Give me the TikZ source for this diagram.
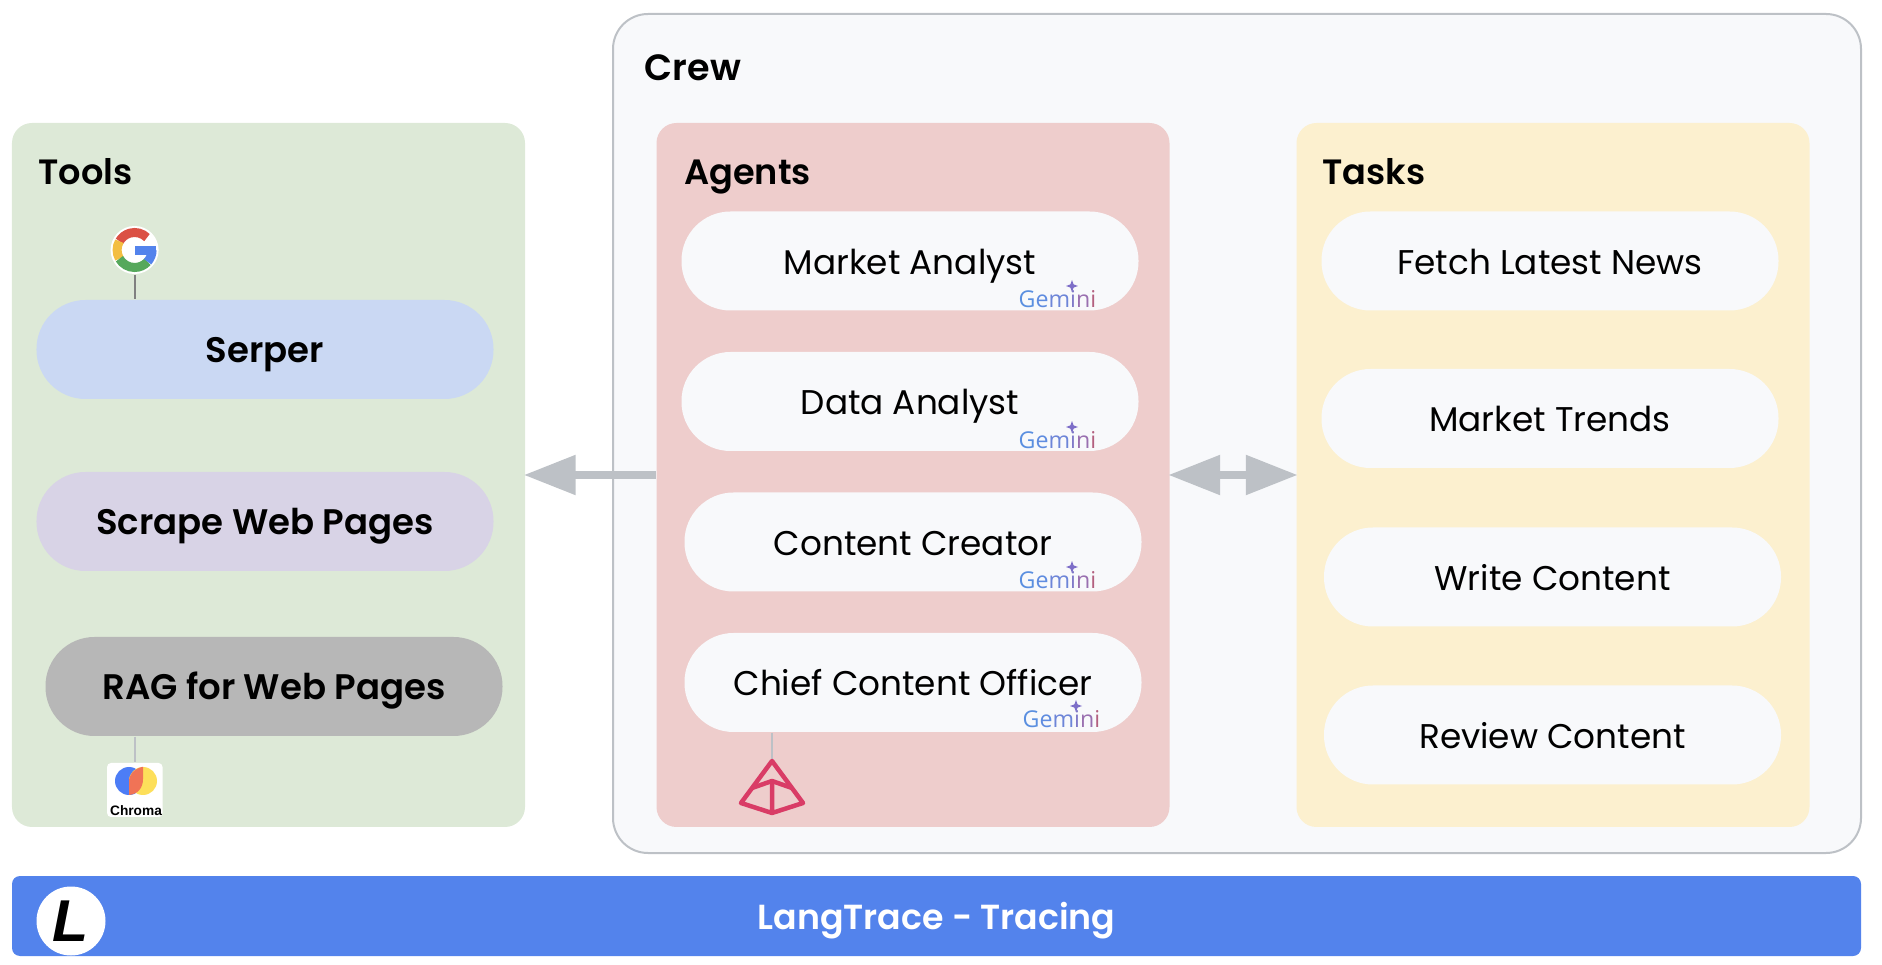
\documentclass[tikz,border=0pt]{standalone}
\usepackage{fontspec}
\setmainfont{Poppins}[BoldFont={Poppins SemiBold}]
\newfontfamily\chromafont{Liberation Sans}
\newfontfamily\geminifont{Open Sans}
\usetikzlibrary{arrows.meta}
\definecolor{toolsgreen}{HTML}{DDE9D7}
\definecolor{agentsred}{HTML}{EECDCC}
\definecolor{tasksyellow}{HTML}{FCF0CF}
\definecolor{crewgrey}{HTML}{F8F9FB}
\definecolor{edgegrey}{HTML}{BDC1C6}
\definecolor{serperblue}{HTML}{CAD8F3}
\definecolor{scrapeviolet}{HTML}{D8D3E6}
\definecolor{raggrey}{HTML}{B7B7B7}
\definecolor{barblue}{HTML}{5383EC}
\definecolor{pyramidred}{HTML}{D93C66}
\begin{document}
\begin{tikzpicture}[every node/.style={font=\fontsize{9.75}{12}\selectfont, inner sep=0pt},
	panel/.style={rounded corners=0.2cm, minimum width=5.13cm, minimum height=7.04cm},
	pill/.style={fill=crewgrey, rounded corners=0.49cm, minimum width=4.57cm, minimum height=0.99cm, text height=0.30cm, text depth=0.03cm},
	tool/.style={pill, font=\fontsize{10.1}{12}\selectfont\bfseries},
	title/.style={anchor=base west, font=\fontsize{10}{12}\selectfont\bfseries},
	flow/.style={draw=edgegrey, line width=0.086cm, shorten >=-0.02cm, shorten <=-0.02cm, {Triangle[length=0.52cm, width=0.38cm]}-{Triangle[length=0.52cm, width=0.38cm]}},
	flowleft/.style={draw=edgegrey, line width=0.086cm, shorten >=-0.02cm, -{Triangle[length=0.52cm, width=0.38cm]}},
	stem/.style={draw=edgegrey, line width=0.02cm}]
	\useasboundingbox (0,0) rectangle (18.82,9.64);
	% panels
	\node[draw=edgegrey, line width=0.02cm, fill=crewgrey, rounded corners=0.35cm, minimum width=12.48cm, minimum height=8.39cm] (crew) at (12.37,5.305) {};
	\node[panel, fill=toolsgreen] (tools) at (2.685,4.89) {};
	\node[panel, fill=agentsred] (agents) at (9.13,4.89) {};
	\node[panel, fill=tasksyellow] (tasks) at (15.53,4.89) {};
	\node[title, font=\fontsize{10.4}{12}\selectfont\bfseries] (crewtitle) at (6.44,8.83) {Crew};
	\node[title] (toolstitle) at (0.38,7.79) {Tools};
	\node[title] (agentstitle) at (6.835,7.79) {Agents};
	\node[title] (taskstitle) at (13.22,7.79) {Tasks};
	% tools
	\node[tool, fill=serperblue] (serper) at (2.65,6.145) {Serper};
	\node[tool, fill=scrapeviolet] (scrape) at (2.65,4.425) {Scrape Web Pages};
	\node[tool, fill=raggrey] (rag) at (2.74,2.775) {RAG for Web Pages};
	% agents
	\node[pill] (market) at (9.10,7.03) {Market Analyst};
	\node[pill] (data) at (9.10,5.625) {Data Analyst};
	\node[pill] (creator) at (9.13,4.22) {Content Creator};
	\node[pill] (chief) at (9.13,2.815) {Chief Content Officer};
	% tasks
	\node[pill] (fetch) at (15.50,7.03) {Fetch Latest News};
	\node[pill] (trends) at (15.50,5.455) {Market Trends};
	\node[pill] (write) at (15.525,3.87) {Write Content};
	\node[pill] (review) at (15.525,2.29) {Review Content};
	% gemini marks
	\foreach \n/\x/\y in {gemA/10.18/6.56, gemB/10.18/5.15, gemC/10.18/3.75, gemD/10.22/2.36} {
		\node[anchor=base west, font=\fontsize{6.6}{8}\selectfont\geminifont] (\n) at (\x,\y) {\textcolor[HTML]{5A8FE0}{G}\textcolor[HTML]{5F8CE0}{e}\textcolor[HTML]{6D85D8}{m}\textcolor[HTML]{8079C8}{i}\textcolor[HTML]{9A70B0}{n}\textcolor[HTML]{B3607F}{i}};
		\fill[color={rgb,255:red,125;green,110;blue,200}] (\x+0.54,\y+0.22) ++(0,0.06) -- ++(0.016,-0.044) -- ++(0.044,-0.016) -- ++(-0.044,-0.016) -- ++(-0.016,-0.044) -- ++(-0.016,0.044) -- ++(-0.044,0.016) -- ++(0.044,0.016) -- cycle;
	}
	% google mark
	\node[circle, fill=white, minimum size=0.48cm] (google) at (1.346,7.14) {};
	\draw[draw=gray, line width=0.02cm] (google.south) -- (google.south |- serper.north);
	\draw[line width=0.09cm, color={rgb,255:red,219;green,80;blue,68}] (google.center) ++(45:0.175) arc (45:150:0.175);
	\draw[line width=0.09cm, color={rgb,255:red,243;green,190;blue,66}] (google.center) ++(150:0.175) arc (150:210:0.175);
	\draw[line width=0.09cm, color={rgb,255:red,86;green,168;blue,92}] (google.center) ++(210:0.175) arc (210:318:0.175);
	\draw[line width=0.09cm, color={rgb,255:red,83;green,131;blue,236}] (google.center) ++(318:0.175) arc (318:360:0.175);
	\fill[color={rgb,255:red,83;green,131;blue,236}] (1.35,7.18) rectangle (1.56,7.09);
	% chroma mark
	\node[fill=white, rounded corners=0.04cm, minimum width=0.555cm, minimum height=0.54cm] (chroma) at (1.348,1.74) {};
	\node[font=\fontsize{3.9}{4}\selectfont\chromafont\bfseries] (chromatext) at (1.36,1.53) {Chroma};
	\draw[stem] (rag.south -| chroma.north) -- (chroma.north);
	\fill[color={rgb,255:red,76;green,125;blue,246}] (1.29,1.83) circle (0.14);
	\fill[color={rgb,255:red,253;green,223;blue,90}] (1.43,1.83) circle (0.14);
	\fill[color={rgb,255:red,240;green,115;blue,86}] (1.42,1.97) .. controls (1.34,1.95) and (1.29,1.90) .. (1.29,1.82) -- (1.29,1.69) .. controls (1.38,1.70) and (1.43,1.76) .. (1.43,1.85) -- (1.43,1.97) -- cycle;
	% pyramid mark
	\coordinate (apex) at (7.72,2.03);
	\coordinate (pleft) at (7.41,1.61);
	\coordinate (pright) at (8.03,1.61);
	\coordinate (pbase) at (7.72,1.51);
	\coordinate (pmid) at (7.72,1.83);
	\draw[stem] (apex |- chief.south) -- (apex);
	\draw[color=pyramidred, line width=0.045cm, line join=round] (apex) -- (pleft) -- (pbase) -- (pright) -- cycle (pbase) -- (pmid);
	\draw[color=pyramidred, line width=0.045cm, line join=round] (7.52,1.76) -- (pmid) -- (7.92,1.76);
	% flows
	\draw[flowleft] (agents) -- (tools);
	\draw[flow] (agents) -- (tasks);
	% bar
	\node[fill=barblue, rounded corners=0.08cm, minimum width=18.49cm, minimum height=0.80cm, text height=0.30cm, text depth=0.03cm, text=white, font=\fontsize{9.9}{12}\selectfont\bfseries] (bar) at (9.365,0.48) {LangTrace - Tracing};
	\node[circle, fill=white, minimum size=0.69cm, font=\fontsize{16.8}{17}\selectfont\chromafont\bfseries\itshape] (logo) at (0.71,0.43) {L};
\end{tikzpicture}
\end{document}
